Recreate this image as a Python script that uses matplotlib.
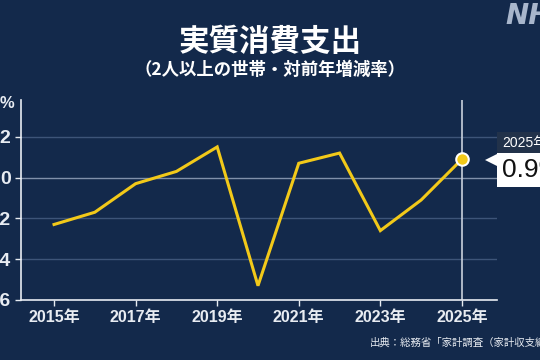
import matplotlib
matplotlib.use("Agg")
import matplotlib.pyplot as plt

plt.rcParams['font.family'] = ['Noto Sans CJK JP', 'DejaVu Sans']

years = [2015, 2016, 2017, 2018, 2019, 2020, 2021, 2022, 2023, 2024, 2025]
values = [-2.3, -1.7, -0.3, 0.3, 1.5, -5.3, 0.7, 1.2, -2.6, -1.1, 0.9]
tick_years = [2015, 2017, 2019, 2021, 2023, 2025]
y_ticks = [2, 0, -2, -4, -6]

bg = '#13294b'
fg = '#e8ecf2'
yellow = '#f2c919'
num_font = ['Liberation Sans', 'Noto Sans CJK JP']

fig = plt.figure(figsize=(5.4, 3.6), dpi=100, facecolor=bg)
ax = fig.add_axes([21 / 540, 1 - 300 / 360, (497 - 21) / 540, (300 - 100) / 360])
ax.set_facecolor(bg)

ax.set_xlim(2014.19, 2025.86)
ax.set_ylim(-6, 3.8)

for y in [2, -2, -4]:
    ax.axhline(y, color='#3d5478', lw=1, zorder=1)
ax.axhline(0, color='#8090aa', lw=1, zorder=1)
ax.axvline(2025, color='#c9d0dc', lw=1.2, zorder=2)

ax.plot(years, values, color=yellow, lw=2.2, zorder=3, solid_joinstyle='miter')
ax.plot(years[-1], values[-1], 'o', ms=9, color=yellow, mec='white', mew=1.5, zorder=4)

for s in ['top', 'right']:
    ax.spines[s].set_visible(False)
for s in ['left', 'bottom']:
    ax.spines[s].set_color(fg)
    ax.spines[s].set_linewidth(1.2)

ax.set_xticks(tick_years)
ax.set_xticklabels([f'{y}年' for y in tick_years])
ax.set_yticks(y_ticks)
ax.set_yticklabels([str(v).replace('-', '−') for v in y_ticks])
ax.tick_params(colors=fg, length=4, width=1)
for lab in ax.get_xticklabels():
    lab.set_fontweight('bold')
    lab.set_family(num_font)
    lab.set_fontsize(11.5)
for lab in ax.get_yticklabels():
    lab.set_fontweight('bold')
    lab.set_family(num_font)
    lab.set_fontsize(14)

fig.text(0.0, 1 - 103 / 360, '%', color=fg, fontsize=12, fontweight='bold', family=num_font,
         va='center', ha='left')

fig.text(0.5, 1 - 42 / 360, '実質消費支出', color='white', fontsize=22, fontweight='bold', ha='center', va='center')
fig.text(0.5, 1 - 70 / 360, '（2人以上の世帯・対前年増減率）', color='white', fontsize=12.5, fontweight='bold',
         ha='center', va='center')

# tooltip
fig.patches.append(plt.Rectangle((497 / 540, 1 - 153 / 360), 60 / 540, 21 / 360, transform=fig.transFigure,
                                 facecolor='#22324a', edgecolor='none'))
fig.patches.append(plt.Rectangle((497 / 540, 1 - 187 / 360), 60 / 540, 34 / 360, transform=fig.transFigure,
                                 facecolor='white', edgecolor='none'))
fig.patches.append(plt.Polygon([(485 / 540, 1 - 160 / 360), (497 / 540, 1 - 154 / 360), (497 / 540, 1 - 166 / 360)],
                               transform=fig.transFigure, facecolor='white', edgecolor='none'))
fig.text(502 / 540, 1 - 143 / 360, '2025年', color='white', fontsize=10, family=num_font, va='center', ha='left')
fig.text(502 / 540, 1 - 170 / 360, f'{values[-1]:.1f}%', color='#111111', fontsize=19, family=num_font,
         va='center', ha='left')

fig.text(370 / 540, 1 - 343 / 360, '出典：総務省「家計調査（家計収支編）」', color=fg, fontsize=7.5, va='center', ha='left')
fig.text(505 / 540, 1 - 16 / 360, 'NHK', color='#a8b6cc', fontsize=20, fontweight='bold', style='italic',
         family='DejaVu Sans', va='center', ha='left')

fig.savefig('out.png', dpi=100, facecolor=bg)
